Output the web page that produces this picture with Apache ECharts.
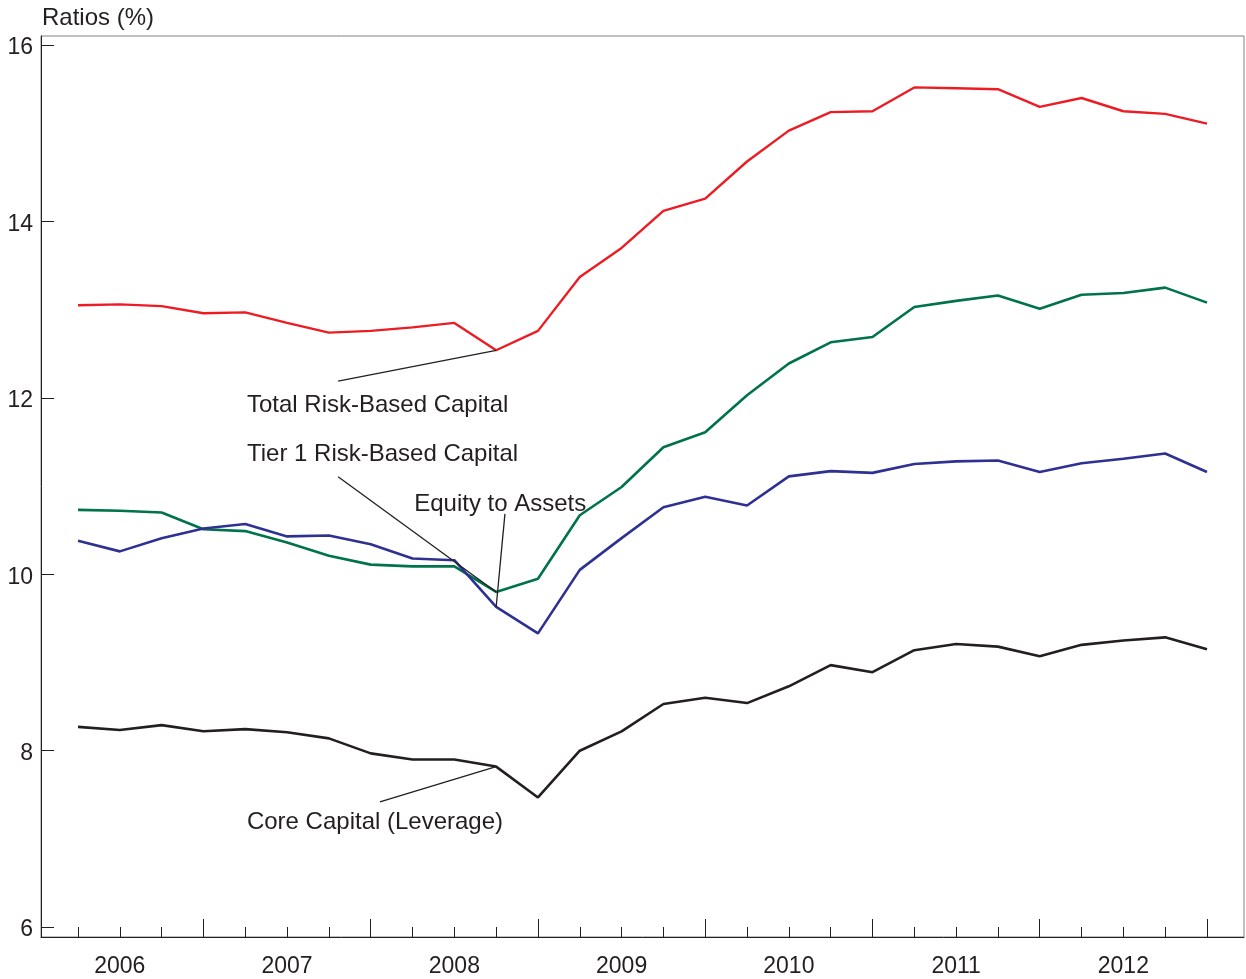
<!DOCTYPE html>
<html>
<head>
<meta charset="utf-8">
<script src="https://cdn.jsdelivr.net/npm/echarts@6/dist/echarts.min.js"></script>
<style>
html,body{margin:0;padding:0;background:#fff;}
#chart{width:1246px;height:979px;}
</style>
</head>
<body>
<div id="chart"></div>
<script>
// ---- Data ----
const quarters = [
  '2006Q1','2006Q2','2006Q3','2006Q4','2007Q1','2007Q2','2007Q3','2007Q4',
  '2008Q1','2008Q2','2008Q3','2008Q4','2009Q1','2009Q2','2009Q3','2009Q4',
  '2010Q1','2010Q2','2010Q3','2010Q4','2011Q1','2011Q2','2011Q3','2011Q4',
  '2012Q1','2012Q2','2012Q3','2012Q4'
];
const yearLabels = ['2006','2007','2008','2009','2010','2011','2012'];
const yTickValues = [6, 8, 10, 12, 14, 16];

const totalRiskBased = [13.05,13.06,13.04,12.96,12.97,12.85,12.74,12.76,12.80,12.85,12.54,12.76,13.37,13.70,14.12,14.26,14.68,15.03,15.24,15.25,15.52,15.51,15.50,15.30,15.40,15.25,15.22,15.11];
const tier1RiskBased = [10.73,10.72,10.70,10.51,10.49,10.36,10.21,10.11,10.09,10.09,9.80,9.95,10.67,10.99,11.44,11.61,12.03,12.39,12.63,12.69,13.03,13.10,13.16,13.01,13.17,13.19,13.25,13.08];
const equityToAssets = [10.38,10.26,10.41,10.52,10.57,10.43,10.44,10.34,10.18,10.16,9.63,9.33,10.05,10.41,10.76,10.88,10.78,11.11,11.17,11.15,11.25,11.28,11.29,11.16,11.26,11.31,11.37,11.16];
const coreCapital = [8.27,8.235,8.29,8.22,8.245,8.21,8.14,7.97,7.90,7.90,7.82,7.47,8.00,8.22,8.53,8.60,8.54,8.73,8.97,8.89,9.14,9.21,9.18,9.07,9.20,9.25,9.285,9.15];

const seriesNames = ['Total Risk-Based Capital','Tier 1 Risk-Based Capital','Equity to Assets','Core Capital (Leverage)'];

// ---- Layout / style ----
const TEXT = '#231f20';
const FONT = '"Liberation Sans", Arial, Helvetica, sans-serif';
const colors = ['#ed1c24', '#00734a', '#2e3192', '#231f20'];
const widths = [2.4, 2.6, 2.6, 2.6];

// annotation positions in data space (x = quarter index, y = ratio)
const annotations = [
  {series: 0, index: 10, textAt: [4.04, 11.92], lineFrom: [6.22, 12.19]},
  {series: 1, index: 10, textAt: [4.04, 11.36], lineFrom: [6.22, 11.105]},
  {series: 2, index: 10, textAt: [8.04, 10.79], lineFrom: [10.21, 10.685]},
  {series: 3, index: 10, textAt: [4.04, 7.19], lineFrom: [7.22, 7.42]}
];

const allIdx = quarters.map((q, i) => i);
const yearLabelIdx = quarters.map((q, i) => q.endsWith('Q2') ? i : -1).filter(i => i >= 0);
const yearEndIdx = quarters.map((q, i) => q.endsWith('Q4') ? i : -1).filter(i => i >= 0);

const seriesValues = [totalRiskBased, tier1RiskBased, equityToAssets, coreCapital];

const X_MIN = -0.885, X_MAX = quarters.length - 1 + 0.885;
const Y_MIN = 5.888, Y_MAX = 16.103;

const chart = echarts.init(document.getElementById('chart'), null, {renderer: 'canvas'});

const option = {
  animation: false,
  backgroundColor: '#ffffff',
  textStyle: {fontFamily: FONT},
  grid: {left: 41, right: 2, top: 36, bottom: 42, show: true, borderColor: '#808080', borderWidth: 1, backgroundColor: 'transparent'},
  xAxis: [
    {
      type: 'value', min: X_MIN, max: X_MAX, position: 'bottom',
      axisLine: {show: true, onZero: false, lineStyle: {color: TEXT, width: 1}},
      axisTick: {show: true, inside: true, length: 10, customValues: allIdx, lineStyle: {color: TEXT, width: 1}},
      axisLabel: {
        show: true, customValues: yearLabelIdx, margin: 18,
        fontSize: 23, color: TEXT, fontFamily: FONT,
        formatter: v => yearLabels[yearLabelIdx.indexOf(Math.round(v))] || ''
      },
      splitLine: {show: false}
    },
    {
      type: 'value', min: X_MIN, max: X_MAX, position: 'bottom',
      axisLine: {show: false, onZero: false},
      axisTick: {show: true, inside: true, length: 18, customValues: yearEndIdx, lineStyle: {color: TEXT, width: 1}},
      axisLabel: {show: false},
      splitLine: {show: false}
    }
  ],
  yAxis: {
    type: 'value', min: Y_MIN, max: Y_MAX,
    axisLine: {show: true, onZero: false, lineStyle: {color: TEXT, width: 1}},
    axisTick: {show: true, inside: true, length: 13, customValues: yTickValues, lineStyle: {color: TEXT, width: 1}},
    axisLabel: {
      show: true, customValues: yTickValues, margin: 8, color: TEXT, fontFamily: FONT,
      formatter: v => '{t|' + v + '}',
      rich: {t: {fontSize: 23, color: TEXT, fontFamily: FONT, padding: [6, 0, 0, 0]}}
    },
    splitLine: {show: false}
  },
  series: seriesValues.map((vals, k) => ({
    name: seriesNames[k],
    type: 'line',
    xAxisIndex: 0,
    yAxisIndex: 0,
    symbol: 'none',
    lineStyle: {color: colors[k], width: widths[k]},
    itemStyle: {color: colors[k]},
    z: 3 + k,
    data: vals.map((v, i) => [i, v])
  })),
  graphic: [
    {type: 'text', left: 42, top: 6, style: {text: 'Ratios (%)', fontSize: 24, fill: TEXT, fontFamily: FONT}}
  ]
};

chart.setOption(option);

// annotations & leader lines computed through the chart's own scales
const extra = [];
annotations.forEach(a => {
  const target = chart.convertToPixel({seriesIndex: a.series}, [a.index, seriesValues[a.series][a.index]]);
  const from = chart.convertToPixel({seriesIndex: a.series}, a.lineFrom);
  const tp = chart.convertToPixel({seriesIndex: a.series}, a.textAt);
  extra.push({
    type: 'line', z: 20,
    shape: {x1: from[0], y1: from[1], x2: target[0], y2: target[1]},
    style: {stroke: TEXT, lineWidth: 1.3}
  });
  extra.push({
    type: 'text', z: 21,
    x: tp[0], y: tp[1],
    style: {text: seriesNames[a.series], fontSize: 24, fill: TEXT, fontFamily: FONT, align: 'left', verticalAlign: 'middle'}
  });
});
chart.setOption({graphic: option.graphic.concat(extra)});
</script>
</body>
</html>
